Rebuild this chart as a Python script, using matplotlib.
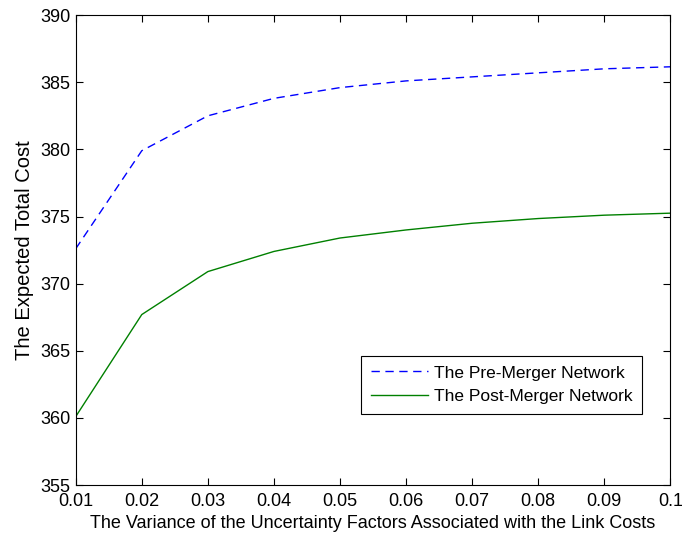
import matplotlib
matplotlib.use("Agg")
import matplotlib.pyplot as plt

plt.rcParams['font.family'] = ['Liberation Sans', 'DejaVu Sans']

variance = [0.01, 0.02, 0.03, 0.04, 0.05, 0.06, 0.07, 0.08, 0.09, 0.1]
preMerger = [372.6, 379.9, 382.5, 383.8, 384.6, 385.1, 385.4, 385.7, 386.0, 386.15]
postMerger = [360.1, 367.7, 370.9, 372.4, 373.4, 374.0, 374.5, 374.85, 375.1, 375.25]
xTicks = [0.01, 0.02, 0.03, 0.04, 0.05, 0.06, 0.07, 0.08, 0.09, 0.1]
xTickLabels = ['0.01', '0.02', '0.03', '0.04', '0.05', '0.06', '0.07', '0.08', '0.09', '0.1']
yTicks = [355, 360, 365, 370, 375, 380, 385, 390]

fig = plt.figure(figsize=(6.82, 5.39), dpi=100)
ax = fig.add_axes([0.111, 0.100, 0.872, 0.872])

ax.plot(variance, preMerger, color='#0000ff', linestyle=(0, (6, 4)), linewidth=1.0,
        label='The Pre-Merger Network')
ax.plot(variance, postMerger, color='#008000', linestyle='-', linewidth=1.0,
        label='The Post-Merger Network')

ax.set_xlim(0.01, 0.1)
ax.set_ylim(355, 390)
ax.set_xticks(xTicks)
ax.set_xticklabels(xTickLabels)
ax.set_yticks(yTicks)
ax.tick_params(direction='in', top=True, right=True, labelsize=13, length=5)
ax.tick_params(axis='x', pad=6)
ax.tick_params(axis='y', pad=4)
for s in ax.spines.values():
    s.set_linewidth(0.8)

ax.set_xlabel('The Variance of the Uncertainty Factors Associated with the Link Costs', fontsize=13, labelpad=3)
ax.set_ylabel('The Expected Total Cost', fontsize=14.5, labelpad=4)

leg = ax.legend(loc='lower right', bbox_to_anchor=(0.967, 0.133), fontsize=12.5, fancybox=False,
                edgecolor='black', framealpha=1, handlelength=3.3, handletextpad=0.35,
                borderpad=0.55, labelspacing=0.5)
leg.get_frame().set_linewidth(0.8)

fig.savefig('out.png', dpi=100)
